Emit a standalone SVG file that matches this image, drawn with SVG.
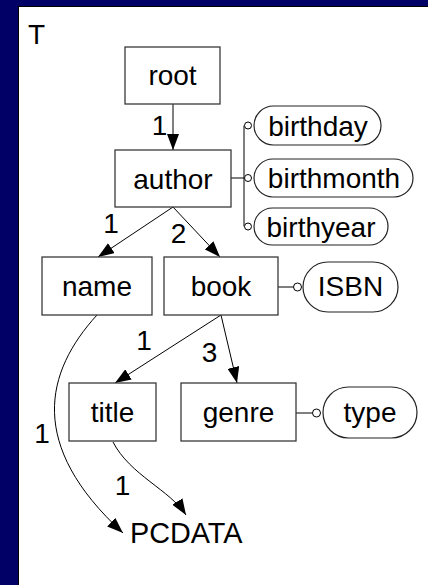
<svg xmlns="http://www.w3.org/2000/svg" width="428" height="585" viewBox="0 0 428 585">
  <style>
    text { font-family: "Liberation Sans", Arial, sans-serif; font-size: 28px; fill: #000; }
    .mid { text-anchor: middle; }
    .box { fill: #fff; stroke: #3a3a3a; stroke-width: 1.3; }
    .pill { fill: #fff; stroke: #222; stroke-width: 1.2; }
    .edge { fill: none; stroke: #000; stroke-width: 1; }
    .arrow { marker-end: url(#head); }
    .dot { fill: #fff; stroke: #000; stroke-width: 1; }
  </style>
  <defs>
    <marker id="head" markerUnits="userSpaceOnUse" markerWidth="16" markerHeight="12" viewBox="0 0 16 12" refX="16" refY="6" orient="auto">
      <path d="M0,0 L16,6 L0,12 z" fill="#000"/>
    </marker>
  </defs>

  <!-- slide frame -->
  <rect x="0" y="0" width="428" height="585" fill="#000066"/>
  <rect x="18" y="6" width="410" height="579" fill="#000"/>
  <rect x="19" y="7" width="409" height="578" fill="#fff"/>
  <text x="28" y="44">T</text>

  <!-- connectors -->
  <g id="connectors">
    <line class="edge arrow" x1="173" y1="104" x2="173" y2="150"/>
    <line class="edge arrow" x1="173" y1="207" x2="98" y2="257"/>
    <line class="edge arrow" x1="173" y1="207" x2="220" y2="257"/>
    <line class="edge arrow" x1="221" y1="315" x2="115" y2="383"/>
    <line class="edge arrow" x1="221" y1="315" x2="237" y2="383"/>
    <path class="edge arrow" d="M97,315 C45,372 27,445 123,533"/>
    <path class="edge arrow" d="M113,442 C130,475 170,490 186,515"/>
    <!-- attribute links -->
    <polyline class="edge" points="231,178 244,178"/>
    <line class="edge" x1="244" y1="125.5" x2="244" y2="226.5"/>
    <line class="edge" x1="278" y1="287" x2="293.5" y2="287"/>
    <line class="edge" x1="296" y1="413" x2="312.5" y2="413"/>
    <circle class="dot" cx="248" cy="125.5" r="3.5"/>
    <circle class="dot" cx="248" cy="178" r="3.5"/>
    <circle class="dot" cx="248" cy="226.5" r="3.5"/>
    <circle class="dot" cx="297.5" cy="287" r="4"/>
    <circle class="dot" cx="316.5" cy="413" r="4"/>
    <!-- cardinalities -->
    <text class="mid" x="159.5" y="135">1</text>
    <text class="mid" x="111" y="233">1</text>
    <text class="mid" x="178.5" y="242.5">2</text>
    <text class="mid" x="144" y="350">1</text>
    <text class="mid" x="209.5" y="361.5">3</text>
    <text class="mid" x="42" y="442.5">1</text>
    <text class="mid" x="122.5" y="495">1</text>
  </g>

  <!-- element nodes -->
  <g id="root">
    <rect class="box" x="125" y="47" width="95" height="57"/>
    <text class="mid" x="172.5" y="85">root</text>
  </g>
  <g id="author">
    <rect class="box" x="115" y="150" width="116" height="57"/>
    <text class="mid" x="173" y="188.5">author</text>
  </g>
  <g id="name">
    <rect class="box" x="42" y="257" width="110" height="58"/>
    <text class="mid" x="97" y="295.5">name</text>
  </g>
  <g id="book">
    <rect class="box" x="164" y="257" width="114" height="58"/>
    <text class="mid" x="221" y="295.5">book</text>
  </g>
  <g id="title">
    <rect class="box" x="69" y="383" width="87" height="58"/>
    <text class="mid" x="112.5" y="422">title</text>
  </g>
  <g id="genre">
    <rect class="box" x="181" y="383" width="115" height="58"/>
    <text class="mid" x="238.5" y="422">genre</text>
  </g>
  <g id="pcdata">
    <text x="130" y="543" style="font-size:28.8px">PCDATA</text>
  </g>

  <!-- attribute nodes -->
  <g id="birthday">
    <rect class="pill" x="254" y="106" width="127" height="39" rx="19.5"/>
    <text class="mid" x="318" y="135.5">birthday</text>
  </g>
  <g id="birthmonth">
    <rect class="pill" x="254" y="159" width="159" height="38" rx="19"/>
    <text class="mid" x="334" y="188">birthmonth</text>
  </g>
  <g id="birthyear">
    <rect class="pill" x="254" y="208" width="134" height="37" rx="18.5"/>
    <text class="mid" x="321" y="236.5">birthyear</text>
  </g>
  <g id="isbn">
    <rect class="pill" x="303" y="262" width="95" height="50" rx="25"/>
    <text class="mid" x="350.5" y="296">ISBN</text>
  </g>
  <g id="type">
    <rect class="pill" x="323" y="387" width="94" height="51" rx="25.5"/>
    <text class="mid" x="370" y="422">type</text>
  </g>
</svg>
